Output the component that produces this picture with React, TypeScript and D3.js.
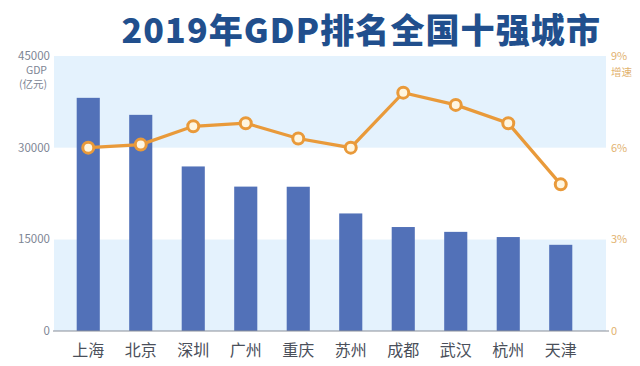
import React, { useEffect, useRef } from "react";
import * as d3 from "d3";

const cities = ["上海", "北京", "深圳", "广州", "重庆", "苏州", "成都", "武汉", "杭州", "天津"];
const gdp = [38155, 35371, 26927, 23628, 23605, 19236, 17013, 16223, 15373, 14104];
const growth = [6.0, 6.1, 6.7, 6.8, 6.3, 6.0, 7.8, 7.4, 6.8, 4.8];
const gdpTicks = [0, 15000, 30000, 45000];
const growthTicks = [0, 3, 6, 9];
const title = "2019年GDP排名全国十强城市";

const W = 640;
const H = 366;
const FONT = "'Noto Sans CJK SC', 'Noto Sans', sans-serif";

export default function App() {
  const svgRef = useRef<SVGSVGElement>(null);

  useEffect(() => {
    const svg = d3.select(svgRef.current);
    svg.selectAll("*").remove();

    const plotL = 54, plotR = 606;
    const y = d3.scaleLinear().domain([0, 45000]).range([331, 56]);
    const y2 = d3.scaleLinear().domain([0, 9]).range([331, 56]);
    const x = d3.scaleBand().domain(cities).range([62, 587]).paddingInner(0.56).paddingOuter(0.28);

    // background bands
    const bands = d3.pairs(gdpTicks);
    svg.selectAll(".band")
      .data(bands)
      .enter()
      .append("rect")
      .attr("x", plotL)
      .attr("width", plotR - plotL)
      .attr("y", (d) => y(d[1]))
      .attr("height", (d) => y(d[0]) - y(d[1]))
      .attr("fill", (d, i) => (i % 2 === 0 ? "#e4f2fd" : "#ffffff"));

    // bars
    svg.selectAll(".bar")
      .data(gdp)
      .enter()
      .append("rect")
      .attr("x", (d, i) => x(cities[i])!)
      .attr("width", x.bandwidth())
      .attr("y", (d) => y(d))
      .attr("height", (d) => y(0) - y(d))
      .attr("fill", "#5271b8");

    // bottom axis line
    svg.append("line")
      .attr("x1", 53).attr("x2", 609)
      .attr("y1", y(0)).attr("y2", y(0))
      .attr("stroke", "#8a8f99").attr("stroke-width", 1);

    // growth line
    const line = d3.line<number>()
      .x((d, i) => x(cities[i])! + x.bandwidth() / 2)
      .y((d) => y2(d));
    svg.append("path")
      .datum(growth)
      .attr("d", line)
      .attr("fill", "none")
      .attr("stroke", "#e99a3a")
      .attr("stroke-width", 3.2);

    svg.selectAll(".pt")
      .data(growth)
      .enter()
      .append("circle")
      .attr("cx", (d, i) => x(cities[i])! + x.bandwidth() / 2)
      .attr("cy", (d) => y2(d))
      .attr("r", 5.5)
      .attr("fill", "#fff6e0")
      .attr("stroke", "#e99a3a")
      .attr("stroke-width", 3);

    // left axis labels
    svg.selectAll(".lt")
      .data(gdpTicks)
      .enter()
      .append("text")
      .attr("x", 50)
      .attr("y", (d) => y(d) + 4)
      .attr("text-anchor", "end")
      .attr("font-size", 11.5)
      .attr("font-family", FONT)
      .attr("fill", "#7d8594")
      .text((d) => String(d));

    svg.append("text")
      .attr("x", 47).attr("y", 74)
      .attr("text-anchor", "end")
      .attr("font-size", 10.5).attr("font-family", FONT).attr("fill", "#7d8594")
      .text("GDP");
    svg.append("text")
      .attr("x", 47).attr("y", 88)
      .attr("text-anchor", "end")
      .attr("font-size", 10.5).attr("font-family", FONT).attr("fill", "#7d8594")
      .text("(亿元)");

    // right axis labels
    svg.selectAll(".rt")
      .data(growthTicks)
      .enter()
      .append("text")
      .attr("x", 611)
      .attr("y", (d) => y2(d) + 4)
      .attr("font-size", 11)
      .attr("font-family", FONT)
      .attr("fill", "#e2b26f")
      .text((d) => (d === 0 ? "0" : d + "%"));

    svg.append("text")
      .attr("x", 611).attr("y", 76)
      .attr("font-size", 10.5).attr("font-family", FONT).attr("fill", "#e2b26f")
      .text("增速");

    // category labels
    svg.selectAll(".cat")
      .data(cities)
      .enter()
      .append("text")
      .attr("x", (d) => x(d)! + x.bandwidth() / 2)
      .attr("y", 356)
      .attr("text-anchor", "middle")
      .attr("font-size", 16)
      .attr("font-family", FONT)
      .attr("fill", "#4a4f5a")
      .text((d) => d);

    // title
    svg.append("text")
      .attr("x", 601)
      .attr("y", 43)
      .attr("text-anchor", "end")
      .attr("font-size", 34)
      .attr("font-weight", 900)
      .attr("letter-spacing", 1.1)
      .attr("font-family", FONT)
      .attr("fill", "#214f8d")
      .text(title);
  }, []);

  return (
    <svg
      ref={svgRef}
      width={W}
      height={H}
      style={{ position: "absolute", left: 0, top: 0, background: "#ffffff" }}
    />
  );
}
